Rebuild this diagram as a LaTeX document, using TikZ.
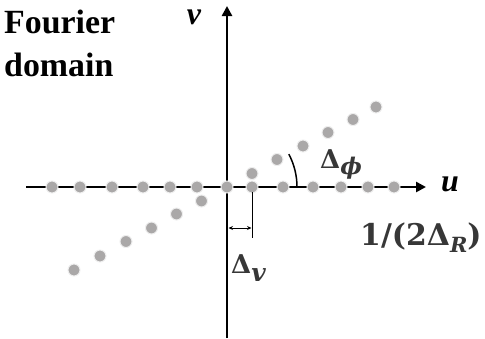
\documentclass[tikz,border=0pt]{standalone}
\usepackage{fontspec}
\setmainfont{Liberation Serif}
\newfontfamily\labfont{DejaVu Serif}
\usetikzlibrary{arrows.meta}
\definecolor{dotgray}{RGB}{170,168,168}
\definecolor{labgray}{RGB}{55,55,55}
\newcommand{\lowsub}[3]{\raisebox{-#2}{\fontsize{#1}{#1}\selectfont\itshape #3}}
\begin{document}
\begin{tikzpicture}[x=1bp,y=-1bp,
  dotn/.style={circle,fill=dotgray,draw=white!80!dotgray,line width=1bp,inner sep=0pt,minimum size=12bp},
  axisline/.style={line width=2.8bp,-{Triangle[length=10bp,width=10bp]}},
  lab/.style={text=labgray,inner sep=0pt,anchor=base west},
  axlab/.style={inner sep=0pt,font=\bfseries\itshape\fontsize{32}{34}\selectfont},
  thin/.style={line width=1.5bp}]
\useasboundingbox (0,0) rectangle (485,338);
\coordinate (O) at (227,187);
\coordinate (xs) at (26,187);
\coordinate (xe) at (426,187);
\coordinate (ys) at (227,338);
\coordinate (ye) at (227,6);
\draw[axisline] (xs) -- (xe);
\draw[axisline] (ys) -- (ye);
% angle arc
\coordinate (arcstart) at (297,187);
\draw[thin] (arcstart) arc[start angle=0,end angle=28,radius=70bp];
% dots on u axis
\foreach \x [count=\i] in {52,80,112,143,170,197,227,252,283,313,341,368,394}
  \node[dotn] (h\i) at (\x,187) {};
% tilted dots
\foreach \x/\y [count=\i] in {252/173.5,277/159.5,303/146,328/132.5,353/119.5,376/107}
  \node[dotn] (p\i) at (\x,\y) {};
\foreach \x/\y [count=\i] in {201.5/201,176.5/214,151.5/228,126/241.5,100/256,74/270}
  \node[dotn] (n\i) at (\x,\y) {};
% spacing marker
\coordinate (tk) at (252.5,238);
\coordinate (tk0) at (252.5,192);
\draw[thin] (tk0) -- (tk);
\coordinate (da) at (228.5,228);
\coordinate (db) at (251.5,228);
\draw[line width=0.9bp,{Stealth[length=4.5bp,width=4bp]}-{Stealth[length=4.5bp,width=4bp]}] (da) -- (db);
% labels
\node[inner sep=0pt,anchor=north west,align=left,font=\bfseries\fontsize{34}{43}\selectfont] (title) at (4,10) {Fourier\\domain};
\node[axlab] (vlab) at (194,17) {v};
\node[axlab] (ulab) at (450,184) {u};
\node[lab,font=\labfont\bfseries\fontsize{26}{28}\selectfont] (dphi) at (320,168) {Δ\lowsub{23}{6bp}{ϕ}};
\node[lab,font=\labfont\bfseries\fontsize{26}{28}\selectfont] (dv) at (231,273) {Δ\lowsub{25}{8bp}{v}};
\node[lab,font=\labfont\bfseries\fontsize{30}{32}\selectfont] (dr) at (360,245) {1/(2Δ\lowsub{21}{7bp}{R})};
\end{tikzpicture}
\end{document}
